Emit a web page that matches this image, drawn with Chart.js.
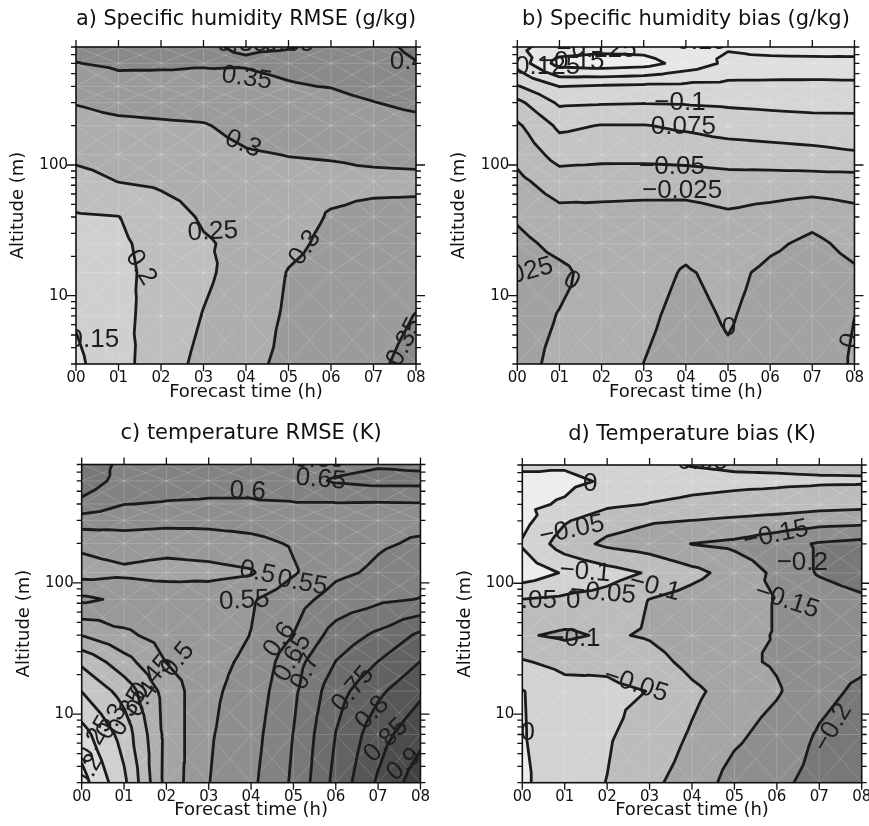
<!DOCTYPE html>
<html><head><meta charset="utf-8">
<script src="https://cdn.jsdelivr.net/npm/chart.js@4.4.1/dist/chart.umd.min.js"></script>
<style>
html,body{margin:0;padding:0;background:#fff;overflow:hidden;width:869px;height:826px;}
#wrap{position:relative;width:869px;height:826px;overflow:hidden;}
canvas{position:absolute;}
</style></head><body>
<div id="wrap">
<canvas id="ca" width="435" height="412" style="left:0px;top:0px"></canvas>
<canvas id="cb" width="434" height="412" style="left:435px;top:0px"></canvas>
<canvas id="cc" width="435" height="414" style="left:0px;top:412px"></canvas>
<canvas id="cd" width="450" height="414" style="left:435px;top:412px"></canvas>
</div>
<script>
// ---------------- DATA ----------------
const hours = [0, 1, 2, 3, 4, 5, 6, 7, 8];
const hourTickLabels = ['00', '01', '02', '03', '04', '05', '06', '07', '08'];
const altitudes = [800, 600, 400, 300, 200, 120, 75, 40, 25, 15, 7, 3]; // grid rows, top to bottom

// a) Specific humidity RMSE (g/kg)
const qRmse = [
  [0.368, 0.362, 0.362, 0.352, 0.348, 0.349, 0.355, 0.385, 0.410],
  [0.349, 0.356, 0.356, 0.353, 0.352, 0.356, 0.360, 0.380, 0.398],
  [0.321, 0.337, 0.335, 0.338, 0.343, 0.348, 0.351, 0.362, 0.376],
  [0.302, 0.313, 0.315, 0.319, 0.331, 0.337, 0.340, 0.349, 0.359],
  [0.283, 0.290, 0.294, 0.297, 0.313, 0.321, 0.325, 0.331, 0.337],
  [0.261, 0.270, 0.276, 0.284, 0.296, 0.301, 0.303, 0.308, 0.311],
  [0.233, 0.251, 0.259, 0.272, 0.280, 0.288, 0.290, 0.291, 0.291],
  [0.195, 0.199, 0.225, 0.256, 0.268, 0.285, 0.303, 0.310, 0.312],
  [0.184, 0.193, 0.215, 0.245, 0.262, 0.290, 0.310, 0.318, 0.325],
  [0.173, 0.190, 0.213, 0.241, 0.271, 0.302, 0.315, 0.328, 0.338],
  [0.155, 0.188, 0.218, 0.252, 0.278, 0.306, 0.325, 0.337, 0.351],
  [0.140, 0.183, 0.228, 0.263, 0.289, 0.310, 0.326, 0.344, 0.360]
];
const qRmseLevels = [0.15, 0.2, 0.25, 0.3, 0.35, 0.4];
const qRmseLabels = [
  ['0.35', 3.91, 839, 0], ['0.35', 5.01, 839, 0], ['0.4', 7.81, 611, 0],
  ['0.35', 4.02, 462, 8], ['0.3', 3.93, 145, 22], ['0.25', 3.22, 30.8, -3],
  ['0.2', 1.53, 16.4, 58], ['0.15', 0.42, 4.6, 0], ['0.3', 5.39, 23.2, -55],
  ['0.35', 7.74, 4.4, -62]
];

// b) Specific humidity bias (g/kg)
const qBias = [
  [-0.145, -0.160, -0.165, -0.165, -0.155, -0.152, -0.158, -0.161, -0.163],
  [-0.135, -0.185, -0.190, -0.185, -0.165, -0.145, -0.143, -0.142, -0.141],
  [-0.098, -0.1255, -0.122, -0.120, -0.119, -0.118, -0.118, -0.118, -0.119],
  [-0.0685, -0.104, -0.102, -0.101, -0.102, -0.104, -0.106, -0.108, -0.107],
  [-0.046, -0.080, -0.074, -0.074, -0.079, -0.085, -0.088, -0.090, -0.092],
  [-0.032, -0.0595, -0.058, -0.058, -0.0596, -0.063, -0.065, -0.068, -0.072],
  [-0.019, -0.038, -0.0345, -0.034, -0.036, -0.0396, -0.039, -0.039, -0.039],
  [-0.0027, -0.0165, -0.018, -0.017, -0.015, -0.0208, -0.0153, -0.0068, -0.0163],
  [0.006, -0.0062, -0.012, -0.010, -0.0054, -0.016, -0.004, 0.005, -0.0065],
  [0.012, 0.005, -0.010, -0.008, 0.002, -0.006, 0.005, 0.011, 0.003],
  [0.010, -0.001, -0.009, -0.004, 0.006, -0.002, 0.008, 0.014, 0.0001],
  [0.008, -0.006, -0.008, 0.0001, 0.009, 0.003, 0.010, 0.015, -0.003]
];
const qBiasLevels = [-0.175, -0.15, -0.125, -0.1, -0.075, -0.05, -0.025, 0, 0.025];
const qBiasLabels = [
  ['\u22120.15', 4.19, 869, 0], ['\u22120.125', 1.88, 755, 0], ['\u22120.15', 1.29, 611, 0],
  ['\u22120.125', 0.54, 560, 0], ['\u22120.1', 3.86, 297, 0], ['\u22120.075', 3.76, 195, 0],
  ['\u22120.05', 3.67, 96.5, 0], ['\u22120.025', 3.91, 63.4, 0], ['0.025', 0.09, 14.7, -15],
  ['0', 1.29, 13.0, 30], ['0', 5.02, 5.7, 0], ['0', 7.9, 4.5, -75]
];

// c) temperature RMSE (K)
const tRmse = [
  [0.700, 0.630, 0.620, 0.620, 0.620, 0.625, 0.635, 0.645, 0.640],
  [0.680, 0.630, 0.620, 0.615, 0.615, 0.630, 0.655, 0.665, 0.665],
  [0.637, 0.601, 0.597, 0.595, 0.595, 0.597, 0.597, 0.595, 0.597],
  [0.575, 0.570, 0.565, 0.565, 0.570, 0.580, 0.585, 0.590, 0.590],
  [0.510, 0.525, 0.520, 0.525, 0.535, 0.555, 0.575, 0.595, 0.605],
  [0.480, 0.490, 0.480, 0.485, 0.495, 0.545, 0.590, 0.608, 0.625],
  [0.560, 0.540, 0.540, 0.530, 0.545, 0.580, 0.620, 0.640, 0.652],
  [0.451, 0.490, 0.520, 0.525, 0.551, 0.601, 0.670, 0.710, 0.760],
  [0.360, 0.430, 0.501, 0.535, 0.560, 0.630, 0.701, 0.751, 0.801],
  [0.301, 0.370, 0.470, 0.540, 0.570, 0.640, 0.730, 0.790, 0.840],
  [0.230, 0.320, 0.465, 0.545, 0.580, 0.651, 0.751, 0.830, 0.885],
  [0.180, 0.289, 0.467, 0.549, 0.589, 0.658, 0.765, 0.857, 0.930]
];
const tRmseLevels = [0.2, 0.25, 0.3, 0.35, 0.4, 0.45, 0.5, 0.55, 0.6, 0.65, 0.7, 0.75, 0.8, 0.85, 0.9];
const tRmseLabels = [
  ['0.65', 5.61, 873, 0], ['0.65', 5.65, 615, 5], ['0.6', 3.92, 498, 3],
  ['0.5', 4.15, 120, 12], ['0.55', 5.21, 100, 10], ['0.55', 3.84, 73.3, -3],
  ['0.6', 4.67, 36.9, -55], ['0.65', 4.98, 26.9, -60], ['0.7', 5.28, 21.0, -65],
  ['0.75', 6.41, 15.5, -50], ['0.8', 6.86, 10.2, -45], ['0.85', 7.19, 6.3, -45],
  ['0.9', 7.61, 4.12, -40], ['0.5', 2.27, 26.0, -50], ['0.45', 1.65, 18.9, -50],
  ['0.4', 1.44, 12.9, -55], ['0.35', 1.09, 10.4, -60], ['0.3', 0.71, 8.75, -60],
  ['0.25', 0.31, 6.37, -60], ['0.2', 0.15, 3.63, -60]
];

// d) Temperature bias (K)
const tBias = [
  [-0.010, -0.005, -0.020, -0.040, -0.052, -0.057, -0.058, -0.060, -0.060],
  [0.015, 0.010, -0.005, -0.025, -0.035, -0.040, -0.042, -0.044, -0.045],
  [0.010, -0.005, -0.040, -0.052, -0.060, -0.065, -0.070, -0.080, -0.085],
  [0.015, -0.045, -0.080, -0.095, -0.101, -0.110, -0.120, -0.130, -0.135],
  [-0.005, -0.075, -0.110, -0.125, -0.151, -0.160, -0.180, -0.205, -0.215],
  [0.030, -0.005, -0.030, -0.055, -0.085, -0.120, -0.160, -0.205, -0.230],
  [-0.051, -0.060, -0.070, -0.101, -0.120, -0.140, -0.151, -0.170, -0.190],
  [-0.095, -0.108, -0.094, -0.105, -0.130, -0.145, -0.151, -0.170, -0.180],
  [-0.045, -0.065, -0.060, -0.080, -0.115, -0.140, -0.155, -0.180, -0.190],
  [0.002, -0.030, -0.040, -0.051, -0.090, -0.120, -0.145, -0.185, -0.210],
  [0.003, -0.025, -0.045, -0.070, -0.105, -0.140, -0.170, -0.205, -0.230],
  [0.008, -0.030, -0.051, -0.090, -0.120, -0.170, -0.190, -0.215, -0.248]
];
const tBiasLevels = [-0.2, -0.15, -0.1, -0.05, 0];
const tBiasLabels = [
  ['\u22120.05', 4.07, 844, 0], ['0', 1.6, 573, 0], ['\u22120.05', 1.17, 255, -12],
  ['\u22120.1', 1.48, 122, 5], ['\u22120.1', 3.12, 93.6, 15], ['\u22120.05', 1.9, 84.1, 5],
  ['\u22120.05', 0.04, 73.1, 0], ['0', 1.2, 73.1, 0], ['\u22120.1', 1.24, 37.8, 0],
  ['\u22120.05', 2.68, 16.8, 18], ['\u22120.15', 5.98, 234, -12], ['\u22120.2', 6.6, 143, 0],
  ['\u22120.15', 6.24, 73.3, 18], ['\u22120.2', 7.32, 7.89, -60], ['0', 0.13, 7.23, 0]
];

// y-axis tick marks (log axis)
const yMajorTicks = [10, 100];
const yMinorTicks = [3, 4, 5, 6, 7, 8, 9, 20, 30, 40, 50, 60, 70, 80, 90, 200, 300, 400, 500, 600, 700, 800];

// ---------------- STYLE ----------------
const qRmseGrays = [224, 207, 190, 173, 155, 138, 122];
const qBiasGrays = [238, 230, 222, 213, 205, 196, 186, 175, 162, 150];
const tRmseGrays = [230, 219, 208, 197, 186, 175, 164, 153, 142, 131, 120, 109, 98, 87, 76, 65];
const tBiasGrays = [120, 142, 165, 188, 210, 236];
const FONT = 'DejaVu Sans';
const LABEL_FONT = '26px "Liberation Sans", Arial, Helvetica, sans-serif';

// ---------------- FIELD HELPERS ----------------
const LY = altitudes.slice().reverse().map(a => Math.log10(a)); // ascending
function ascending(grid) { return grid.slice().reverse(); }

function interp(G, h, l) {
  const nx = hours.length, ny = LY.length;
  let i = 0; while (i < nx - 2 && h > hours[i + 1]) i++;
  let j = 0; while (j < ny - 2 && l > LY[j + 1]) j++;
  const u = (h - hours[i]) / (hours[i + 1] - hours[i]);
  const v = (l - LY[j]) / (LY[j + 1] - LY[j]);
  const a = G[j][i], b = G[j][i + 1], d = G[j + 1][i + 1], c = G[j + 1][i];
  const m = (a + b + c + d) / 4;
  if (v <= u && v <= 1 - u) return (1 - u - v) * a + (u - v) * b + 2 * v * m;
  if (u >= v && u >= 1 - v) return (u - v) * b + (v - (1 - u)) * d + 2 * (1 - u) * m;
  if (v >= u && v >= 1 - u) return (u - (1 - v)) * d + (v - u) * c + 2 * (1 - v) * m;
  return (1 - u - v) * a + (v - u) * c + 2 * u * m;
}

function contourLines(grid, levels) {
  const G = ascending(grid);
  const nx = hours.length, ny = LY.length;
  const result = [];
  for (const L of levels) {
    const segs = [];
    for (let j = 0; j < ny - 1; j++) {
      for (let i = 0; i < nx - 1; i++) {
        const A = {id: 'n' + j + '_' + i, x: hours[i], y: LY[j], v: G[j][i]};
        const B = {id: 'n' + j + '_' + (i + 1), x: hours[i + 1], y: LY[j], v: G[j][i + 1]};
        const D = {id: 'n' + (j + 1) + '_' + (i + 1), x: hours[i + 1], y: LY[j + 1], v: G[j + 1][i + 1]};
        const C = {id: 'n' + (j + 1) + '_' + i, x: hours[i], y: LY[j + 1], v: G[j + 1][i]};
        const M = {id: 'c' + j + '_' + i, x: (A.x + B.x) / 2, y: (A.y + C.y) / 2, v: (A.v + B.v + C.v + D.v) / 4};
        for (const t of [[A, B, M], [B, D, M], [D, C, M], [C, A, M]]) {
          const pts = [];
          for (const [P, Q] of [[t[0], t[1]], [t[1], t[2]], [t[2], t[0]]]) {
            const pa = P.v - L, pb = Q.v - L;
            if ((pa >= 0) !== (pb >= 0)) {
              const tt = pa / (pa - pb);
              pts.push({k: P.id < Q.id ? P.id + '|' + Q.id : Q.id + '|' + P.id,
                        x: P.x + tt * (Q.x - P.x), y: P.y + tt * (Q.y - P.y)});
            }
          }
          if (pts.length === 2) segs.push(pts);
        }
      }
    }
    const map = new Map();
    segs.forEach((s, idx) => s.forEach(p => { if (!map.has(p.k)) map.set(p.k, []); map.get(p.k).push(idx); }));
    const used = new Array(segs.length).fill(false);
    const visit = (i0, k0) => {
      if (used[i0]) return;
      const line = [];
      let i = i0, k = k0;
      const s0 = segs[i];
      line.push(s0[0].k === k ? s0[0] : s0[1]);
      while (true) {
        used[i] = true;
        const s = segs[i];
        const other = s[0].k === k ? s[1] : s[0];
        line.push(other);
        const nxt = map.get(other.k).find(q => !used[q]);
        if (nxt === undefined) break;
        i = nxt; k = other.k;
      }
      result.push({level: L, pts: line.map(p => ({x: p.x, y: Math.pow(10, p.y)}))});
    };
    segs.forEach((s, i) => s.forEach(p => { if (map.get(p.k).length === 1) visit(i, p.k); }));
    segs.forEach((s, i) => { if (!used[i]) visit(i, s[0].k); });
  }
  return result;
}

// ---------------- PLUGINS ----------------
function fieldPlugin(grid, levels, grays) {
  const G = ascending(grid);
  return {
    id: 'field',
    beforeDraw(chart) {
      const {ctx, chartArea: a, scales: {x, y}} = chart;
      const x0 = Math.floor(a.left), x1 = Math.ceil(a.right), y0 = Math.floor(a.top), y1 = Math.ceil(a.bottom);
      const w = x1 - x0, h = y1 - y0;
      const off = document.createElement('canvas'); off.width = w; off.height = h;
      const octx = off.getContext('2d');
      const img = octx.createImageData(w, h);
      const hx = [], ly = [];
      for (let i = 0; i < w; i++) hx.push(Math.min(8, Math.max(0, x.getValueForPixel(x0 + i + 0.5))));
      for (let j = 0; j < h; j++) ly.push(Math.log10(Math.min(800, Math.max(3, y.getValueForPixel(y0 + j + 0.5)))));
      for (let j = 0; j < h; j++) {
        for (let i = 0; i < w; i++) {
          const v = interp(G, hx[i], ly[j]);
          let band = 0; while (band < levels.length && v >= levels[band]) band++;
          const g = grays[band];
          const o = (j * w + i) * 4;
          img.data[o] = g; img.data[o + 1] = g; img.data[o + 2] = g; img.data[o + 3] = 255;
        }
      }
      octx.putImageData(img, 0, 0);
      ctx.drawImage(off, x0, y0);
      // faint triangulation mesh
      ctx.save();
      ctx.beginPath(); ctx.rect(a.left, a.top, a.width, a.height); ctx.clip();
      ctx.strokeStyle = 'rgba(255,255,255,0.20)';
      ctx.lineWidth = 0.9;
      ctx.beginPath();
      const px = hv => x.getPixelForValue(hv), py = lv => y.getPixelForValue(Math.pow(10, lv));
      for (const hv of hours) { ctx.moveTo(px(hv), a.top); ctx.lineTo(px(hv), a.bottom); }
      for (const lv of LY) { ctx.moveTo(a.left, py(lv)); ctx.lineTo(a.right, py(lv)); }
      for (let j = 0; j < LY.length - 1; j++) for (let i = 0; i < hours.length - 1; i++) {
        ctx.moveTo(px(hours[i]), py(LY[j])); ctx.lineTo(px(hours[i + 1]), py(LY[j + 1]));
        ctx.moveTo(px(hours[i + 1]), py(LY[j])); ctx.lineTo(px(hours[i]), py(LY[j + 1]));
      }
      ctx.stroke();
      ctx.restore();
    }
  };
}

function labelPlugin(labels) {
  return {
    id: 'clabels',
    afterDatasetsDraw(chart) {
      const {ctx, chartArea: a, scales: {x, y}} = chart;
      ctx.save();
      ctx.beginPath(); ctx.rect(a.left, a.top, a.width, a.height); ctx.clip();
      ctx.fillStyle = '#1e1e1e';
      ctx.font = LABEL_FONT;
      ctx.textAlign = 'center'; ctx.textBaseline = 'middle';
      for (const [t, hv, alt, ang] of labels) {
        ctx.save();
        ctx.translate(x.getPixelForValue(hv), y.getPixelForValue(alt));
        ctx.rotate(ang * Math.PI / 180);
        ctx.fillText(t, 0, 0);
        ctx.restore();
      }
      ctx.restore();
    }
  };
}

const framePlugin = {
  id: 'frame',
  afterDraw(chart) {
    const {ctx, chartArea: a, scales: {x, y}} = chart;
    ctx.save();
    ctx.strokeStyle = '#111';
    ctx.lineWidth = 1.6;
    ctx.strokeRect(a.left, a.top, a.right - a.left, a.bottom - a.top);
    ctx.lineWidth = 1.3;
    ctx.beginPath();
    for (const hv of hours) {
      const p = x.getPixelForValue(hv);
      ctx.moveTo(p, a.bottom); ctx.lineTo(p, a.bottom + 7);
      ctx.moveTo(p, a.top); ctx.lineTo(p, a.top - 7);
    }
    const tick = (v, len) => {
      const p = y.getPixelForValue(v);
      ctx.moveTo(a.left, p); ctx.lineTo(a.left - len, p);
      ctx.moveTo(a.right, p); ctx.lineTo(a.right + len, p);
    };
    yMajorTicks.forEach(v => tick(v, 9));
    yMinorTicks.forEach(v => tick(v, 5));
    ctx.stroke();
    ctx.restore();
  }
};

// ---------------- CHARTS ----------------
function makeChart(id, title, grid, levels, grays, labels, g) {
  const lines = contourLines(grid, levels);
  const datasets = lines.map(l => ({
    label: String(l.level), data: l.pts, showLine: true, borderColor: '#1b1b1b', borderWidth: 2.8,
    pointRadius: 0, pointHoverRadius: 0, fill: false, tension: 0, clip: 0,
    borderCapStyle: 'round', borderJoinStyle: 'round'
  }));
  return new Chart(document.getElementById(id), {
    type: 'scatter',
    data: {datasets},
    options: {
      responsive: false, animation: false, events: [],
      layout: {padding: {left: 0, right: g.padRight, top: 0, bottom: 0}},
      plugins: {
        legend: {display: false}, tooltip: {enabled: false},
        title: {display: true, text: title, fullSize: false, color: '#111',
                font: {family: FONT, size: 21, weight: 'normal'},
                padding: {top: g.titleTop, bottom: g.titleBottom}}
      },
      scales: {
        x: {type: 'linear', min: 0, max: 8, position: 'bottom',
            grid: {display: false, drawTicks: false}, border: {display: false},
            ticks: {stepSize: 1, autoSkip: false, maxRotation: 0, padding: 5, color: '#111',
                    font: {family: FONT, size: 15},
                    callback: v => { const k = hours.indexOf(v); return k >= 0 ? hourTickLabels[k] : ''; }},
            title: {display: true, text: 'Forecast time (h)', color: '#111',
                    font: {family: FONT, size: 18}, padding: {top: 0, bottom: g.xTitleBottom}},
            afterFit: s => { s.height = g.xHeight; }},
        y: {type: 'logarithmic', min: 3, max: 800, position: 'left',
            grid: {display: false, drawTicks: false}, border: {display: false},
            ticks: {autoSkip: false, padding: 8, color: '#111', font: {family: FONT, size: 15},
                    callback: v => (yMajorTicks.includes(v) ? String(v) : '')},
            title: {display: true, text: 'Altitude (m)', color: '#111',
                    font: {family: FONT, size: 18}, padding: {top: g.yTitleLeft, bottom: 0}},
            afterFit: s => { s.width = g.yWidth; }}
      }
    },
    plugins: [fieldPlugin(grid, levels, grays), labelPlugin(labels), framePlugin]
  });
}

makeChart('ca', 'a) Specific humidity RMSE (g/kg)', qRmse, qRmseLevels, qRmseGrays, qRmseLabels,
  {padRight: 19, titleTop: 6.7, titleBottom: 15.1, xHeight: 48, xTitleBottom: 9.2, yTitleLeft: 7.5, yWidth: 76});
makeChart('cb', 'b) Specific humidity bias (g/kg)', qBias, qBiasLevels, qBiasGrays, qBiasLabels,
  {padRight: 12.3, titleTop: 6.6, titleBottom: 15.2, xHeight: 48, xTitleBottom: 9.2, yTitleLeft: 13.2, yWidth: 82.3});
makeChart('cc', 'c) temperature RMSE (K)', tRmse, tRmseLevels, tRmseGrays, tRmseLabels,
  {padRight: 13.3, titleTop: 8.7, titleBottom: 18.6, xHeight: 43.3, xTitleBottom: 5.2, yTitleLeft: 13.2, yWidth: 81.7});
makeChart('cd', 'd) Temperature bias (K)', tBias, tBiasLevels, tBiasGrays, tBiasLabels,
  {padRight: 23.3, titleTop: 9.6, titleBottom: 18.2, xHeight: 43.3, xTitleBottom: 5.2, yTitleLeft: 19.7, yWidth: 87.3});
</script>
</body></html>
